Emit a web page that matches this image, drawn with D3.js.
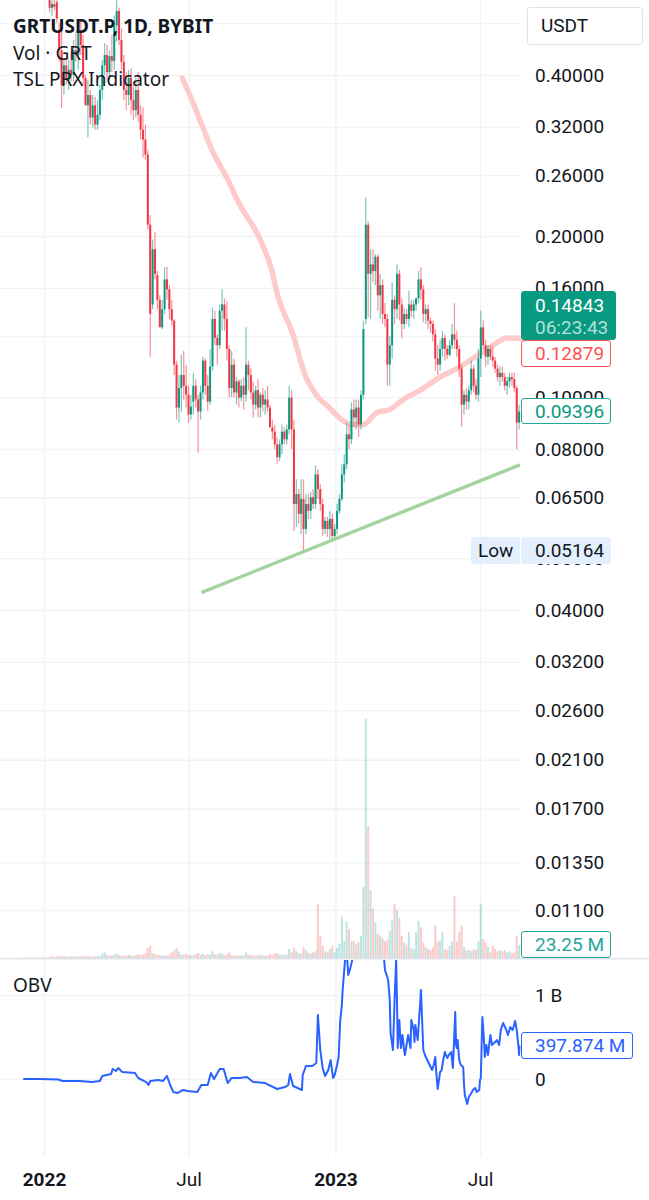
<!DOCTYPE html>
<html>
<head>
<meta charset="utf-8">
<title>GRTUSDT.P</title>
<script src="https://cdn.jsdelivr.net/npm/d3@7/dist/d3.min.js"></script>
<style>
  html, body { margin: 0; padding: 0; background: #fff; }
  svg { display: block; }
  text { font-family: Roboto, sans-serif; fill: #131722; }
  .legend text { font-family: "Noto Sans", sans-serif; }
  .axis .domain { display: none; }
  .axis line { stroke: #f1f2f4; stroke-width: 1.4; }
</style>
</head>
<body>
<div id="chart"></div>
<script>
const width = 649;
const height = 1200;

const priceTicks = [0.5, 0.4, 0.32, 0.26, 0.2, 0.16, 0.13, 0.1, 0.08, 0.065, 0.05, 0.04, 0.032, 0.026, 0.021, 0.017, 0.0135, 0.011];
// these two tick labels sit fully behind the USDT box and the last price box
const hiddenPriceLabels = [0.5, 0.13];
const timeTicks = ["2022-01-01", "2022-07-01", "2023-01-01", "2023-07-01"];
const timeLabels = ["2022", "Jul", "2023", "Jul"];
const obvTicks = [0, 1000];

// daily candles thinned to one every 3 days, starting 2022-01-08
const opens = [
  .552,.534,.543,.547,.485,.445,.383,.417,.392,.409,
  .400,.445,.436,.481,.455,.395,.351,.367,.333,.351,
  .323,.337,.375,.417,.436,.405,.434,.425,.495,.527,
  .465,.423,.375,.367,.395,.359,.344,.375,.337,.316,
  .303,.284,.210,.149,.189,.169,.152,.135,.146,.166,
  .159,.146,.139,.115,.0956,.104,.110,.105,.101,.0928,
  .0981,.105,.099,.0940,.102,.117,.105,.0981,.114,.140,
  .129,.125,.145,.149,.140,.123,.104,.115,.102,.107,
  .0998,.105,.101,.115,.110,.102,.0968,.103,.0956,.101,
  .0968,.099,.0956,.0878,.0862,.0816,.0772,.0816,.0862,.0834,
  .087,.0998,.087,.0631,.0659,.0605,.0645,.0567,.0631,.0613,
  .065,.0631,.0717,.0673,.0631,.0567,.0587,.0567,.0592,.055,
  .0567,.0613,.0645,.0717,.0749,.0852,.0834,.0948,.0916,.0956,
  .0889,.101,.140,.210,.17,.177,.172,.183,.155,.162,
  .143,.140,.115,.125,.152,.146,.170,.149,.137,.143,
  .140,.149,.145,.149,.153,.166,.159,.143,.146,.139,
  .137,.131,.118,.115,.123,.129,.123,.120,.125,.131,
  .128,.123,.113,.0968,.101,.0981,.103,.113,.105,.101,
  .118,.135,.125,.119,.123,.119,.117,.113,.109,.111,
  .109,.105,.107,.109,.108,.104,.0896
];
const highs = [
  .564,.552,.574,.564,.501,.485,.427,.431,.427,.442,
  .465,.485,.495,.506,.475,.400,.392,.375,.367,.364,
  .359,.383,.427,.459,.455,.445,.475,.517,.557,.535,
  .489,.436,.405,.409,.412,.383,.395,.405,.351,.348,
  .323,.290,.219,.197,.204,.172,.155,.152,.175,.175,
  .162,.152,.140,.117,.110,.120,.122,.115,.105,.101,
  .111,.108,.101,.105,.119,.118,.110,.123,.147,.145,
  .131,.149,.159,.153,.151,.125,.122,.118,.109,.108,
  .108,.109,.135,.117,.113,.107,.105,.108,.102,.104,
  .103,.105,.0968,.0908,.0889,.0841,.0834,.0889,.0878,.0889,
  .105,.103,.0908,.0702,.0673,.0702,.0702,.0659,.0659,.0665,
  .0673,.0745,.0733,.0687,.0645,.0597,.0597,.0613,.0605,.0579,
  .0631,.0659,.0749,.0782,.0896,.0889,.0977,.099,.099,.099,
  .103,.139,.236,.213,.189,.189,.185,.185,.170,.166,
  .150,.143,.130,.164,.155,.177,.173,.153,.147,.146,
  .158,.152,.152,.153,.172,.175,.162,.149,.149,.141,
  .139,.134,.125,.128,.133,.131,.125,.128,.137,.150,
  .133,.125,.115,.103,.104,.105,.117,.115,.108,.123,
  .145,.139,.128,.125,.125,.124,.119,.115,.114,.114,
  .111,.109,.111,.111,.111,.105,.0968
];
const lows = [
  .524,.516,.529,.501,.424,.347,.367,.383,.375,.389,
  .388,.423,.409,.436,.383,.351,.306,.323,.319,.316,
  .316,.330,.359,.400,.389,.392,.405,.409,.461,.455,
  .409,.359,.344,.351,.337,.330,.333,.327,.303,.280,
  .278,.206,.119,.146,.166,.146,.136,.134,.143,.152,
  .140,.136,.110,.0908,.0896,.0940,.0990,.0956,.0896,.0908,
  .0928,.0956,.0788,.0908,.099,.101,.0944,.0968,.112,.125,
  .115,.123,.133,.133,.117,.0998,.100,.0998,.0968,.0956,
  .0981,.0948,.0981,.103,.099,.0916,.0948,.0916,.0916,.094,
  .0928,.094,.0881,.0834,.0799,.0749,.0759,.0782,.0816,.0816,
  .0852,.0799,.0562,.0572,.058,.0555,.05164,.0555,.0592,.0592,
  .0618,.0618,.0645,.0613,.055,.0555,.0548,.0543,.0541,.0543,
  .0555,.0605,.0639,.0692,.0733,.0799,.0816,.0878,.087,.0841,
  .087,.099,.137,.141,.140,.164,.162,.145,.140,.137,
  .135,.105,.105,.118,.137,.140,.139,.129,.134,.137,
  .135,.141,.140,.145,.150,.152,.138,.137,.134,.132,
  .127,.112,.110,.112,.119,.117,.118,.119,.123,.123,
  .119,.109,.0881,.0928,.0948,.0948,.101,.102,.099,.0981,
  .109,.123,.114,.115,.117,.114,.111,.107,.105,.107,
  .103,.101,.104,.105,.102,.0799,.087
];
const closes = [
  .534,.543,.536,.510,.445,.383,.417,.392,.409,.400,
  .445,.436,.481,.455,.395,.351,.367,.333,.351,.323,
  .337,.375,.417,.436,.405,.434,.425,.495,.527,.465,
  .423,.375,.367,.395,.359,.344,.375,.337,.316,.303,
  .284,.210,.143,.189,.170,.152,.135,.146,.166,.159,
  .146,.139,.115,.0956,.104,.110,.105,.101,.0928,.0960,
  .105,.099,.0940,.102,.117,.105,.0981,.114,.140,.129,
  .125,.145,.149,.140,.123,.104,.115,.102,.107,.0998,
  .105,.101,.115,.110,.102,.0968,.103,.0956,.101,.0968,
  .099,.0956,.0878,.0862,.0816,.0772,.0816,.0862,.0834,.087,
  .0998,.087,.0631,.0659,.0605,.0645,.0567,.0631,.0613,.065,
  .0631,.0717,.0673,.0631,.0567,.0587,.0567,.0592,.055,.0567,
  .0613,.0645,.0717,.0749,.0852,.0834,.0948,.0916,.0956,.0889,
  .101,.134,.210,.170,.177,.172,.183,.155,.162,.143,
  .140,.115,.125,.152,.146,.170,.149,.137,.143,.140,
  .149,.145,.149,.153,.166,.159,.143,.146,.139,.137,
  .131,.118,.115,.123,.129,.123,.120,.125,.131,.128,
  .123,.113,.0968,.101,.0981,.103,.113,.105,.101,.118,
  .135,.125,.119,.123,.119,.117,.113,.109,.111,.109,
  .105,.107,.109,.108,.104,.0896,.09396
];

// volume in millions, same 3 day step, starts 11 bars before the first candle
const volumes = [
  2,2,2,2,3,2,2,2,3,2,2,
  2,3,2,3,3,4,3,3,2,3,
  3,2,3,3,3,4,3,3,2,3,
  4,3,8,10,5,4,4,6,8,5,
  5,4,4,6,4,4,5,7,5,6,
  8,18,22,9,7,6,5,5,4,4,
  6,10,14,18,12,7,6,8,5,5,
  5,7,9,6,8,5,7,6,12,7,
  6,9,8,5,7,10,5,5,4,5,
  5,4,10,6,5,5,4,5,6,5,
  4,5,7,5,8,9,6,6,5,6,
  16,10,18,12,8,8,20,14,10,8,
  10,12,97,40,22,12,10,16,22,10,
  18,25,74,30,66,52,30,30,25,28,
  40,127,428,236,122,88,64,43,40,36,
  30,32,49,67,97,85,72,40,28,24,
  46,18,16,46,67,55,28,20,16,14,
  19,58,30,31,46,16,14,22,30,111,
  30,46,58,20,14,14,12,16,14,30,
  97,34,28,20,10,22,16,12,14,12,
  14,10,12,8,10,40,23.25
];

// TSL PRX indicator, days counted from 2022-01-01
const tslDays = [173,187,199,212,229,245,270,285,293,311,327,343,358,367,379,387,400,417,433,450,471,496,517,537,559,580,596];
const tslValues = [.395,.354,.319,.286,.257,.229,.198,.173,.154,.132,.110,.100,.0954,.0923,.0896,.0889,.0889,.0936,.0948,.099,.103,.109,.113,.118,.124,.129,.12879];

const trendDays = [197, 596];
const trendValues = [.0431, .0747];

// OBV in millions, days counted from 2022-01-01
const obvDays = [
  -26,-5,18,23,45,60,70,73,84,86,90,93,98,114,118,128,131,133,143,149,154,158,162,167,174,180,192,197,205,209,
  213,220,225,230,235,245,254,262,277,292,302,306,308,312,323,324,328,336,341,343,346,349,352,356,359,361,362,364,367,369,
  371,373,374,377,379,381,383,386,388,400,414,425,426,427,429,431,433,434,437,439,441,442,443,445,447,449,451,452,456,459,
  460,463,464,465,468,470,471,472,474,475,477,480,483,486,488,490,491,493,496,498,500,502,505,507,510,511,512,513,515,516,
  517,518,520,522,525,526,527,530,532,536,537,540,542,545,546,547,549,551,552,554,556,559,561,565,567,570,572,575,579,581,
  584,587,590,592,594,595,596
];
const obvValues = [
  0,0,-6,-24,-24,-36,-24,36,60,119,95,131,83,71,12,-36,-71,-24,-12,-24,36,-71,-155,-167,-131,-143,-155,-71,-71,71,
  0,119,119,-48,12,12,24,-36,-48,-119,-95,-71,60,-83,-131,48,155,155,190,762,345,131,36,107,226,83,12,48,167,262,
  702,880,1059,1416,1535,1238,1297,1416,1535,1900,1900,1535,1416,1297,1238,1178,940,547,345,940,1416,940,369,702,369,524,345,286,524,369,
  702,583,440,643,464,762,881,1059,583,345,286,226,167,107,167,262,107,-119,83,107,226,321,250,286,321,226,131,345,797,405,
  369,464,226,167,143,-71,-190,-298,-214,-155,-131,-107,-155,-131,-12,12,738,464,262,405,286,524,405,440,464,405,583,666,583,524,
  619,583,690,583,405,286,397.874
];

const upColor = "#089981";
const downColor = "#f23645";
const baseDate = new Date(2022, 0, 1);
const firstCandle = new Date(2022, 0, 8);
const stepDays = 3;

const svg = d3.select("#chart").append("svg")
  .attr("width", width)
  .attr("height", height);

const x = d3.scaleTime()
  .domain([new Date(2022, 0, 1), new Date(2023, 6, 1)])
  .range([44, 480]);

const y = d3.scaleLog()
  .domain([0.4, 0.04])
  .range([75, 610]);

const volumeY = d3.scaleLinear()
  .domain([0, 428])
  .range([958, 719]);

const obvY = d3.scaleLinear()
  .domain([0, 1000])
  .range([1079, 995]);

function parseDay(value) {
  const parts = value.split("-").map(Number);
  return new Date(parts[0], parts[1] - 1, parts[2]);
}

function dayToDate(day) {
  return d3.timeDay.offset(baseDate, day);
}

drawGrid();
drawVolume();
drawIndicator();
drawCandles();
drawTrend();
drawObv();
drawLegend();
drawLabels();

function drawGrid() {
  svg.append("g")
    .attr("class", "axis time-grid")
    .attr("transform", "translate(0,1156)")
    .call(d3.axisBottom(x)
      .tickValues(timeTicks.map(parseDay))
      .tickSize(-1156)
      .tickPadding(17)
      .tickFormat((d, i) => timeLabels[i]))
    .selectAll("text")
    .attr("font-size", 19)
    .attr("font-weight", (d, i) => i % 2 === 0 ? 700 : 400);

  const priceAxis = svg.append("g")
    .attr("class", "axis price-axis")
    .attr("transform", "translate(520,0)")
    .call(d3.axisRight(y)
      .tickValues(priceTicks)
      .tickSize(-520)
      .tickPadding(15)
      .tickFormat(d => hiddenPriceLabels.includes(d) ? "" : d.toFixed(5)));
  priceAxis.selectAll("text").attr("font-size", 19);

  const obvAxis = svg.append("g")
    .attr("class", "axis obv-axis")
    .attr("transform", "translate(520,0)")
    .call(d3.axisRight(obvY)
      .tickValues(obvTicks)
      .tickSize(-520)
      .tickPadding(15)
      .tickFormat(d => d === 0 ? "0" : "1 B"));
  obvAxis.selectAll("text").attr("font-size", 19);

  svg.append("rect")
    .attr("x", 0)
    .attr("y", 958)
    .attr("width", width)
    .attr("height", 1.5)
    .attr("fill", "#e0e3eb");
}

function drawVolume() {
  const offset = volumes.length - closes.length;

  svg.append("g")
    .selectAll("rect")
    .data(volumes)
    .join("rect")
    .attr("x", (d, i) => x(d3.timeDay.offset(firstCandle, (i - offset) * stepDays)) - 1)
    .attr("width", 2)
    .attr("y", d => volumeY(d))
    .attr("height", d => volumeY(0) - volumeY(d))
    .attr("fill", (d, i) => {
      const c = i - offset;
      if (c < 0) {
        return "#f7a9a7";
      }
      return closes[c] >= opens[c] ? "#26a69a" : "#ef5350";
    })
    .attr("fill-opacity", 0.3);
}

function drawIndicator() {
  const line = d3.line()
    .x((d, i) => x(dayToDate(tslDays[i])))
    .y(d => y(d))
    .curve(d3.curveMonotoneX);

  svg.append("path")
    .attr("d", line(tslValues))
    .attr("fill", "none")
    .attr("stroke", "#fecbca")
    .attr("stroke-width", 5.4)
    .attr("stroke-linecap", "round");
}

function drawCandles() {
  const candles = closes.map((close, i) => ({
    date: d3.timeDay.offset(firstCandle, i * stepDays),
    open: opens[i],
    high: highs[i],
    low: lows[i],
    close: close
  }));

  const g = svg.append("g");

  g.selectAll("line")
    .data(candles)
    .join("line")
    .attr("x1", d => x(d.date))
    .attr("x2", d => x(d.date))
    .attr("y1", d => y(d.high))
    .attr("y2", d => y(d.low))
    .attr("stroke", d => d.close >= d.open ? upColor : downColor)
    .attr("stroke-opacity", 0.55)
    .attr("stroke-width", 1.2);

  g.selectAll("rect")
    .data(candles)
    .join("rect")
    .attr("x", d => x(d.date) - 1)
    .attr("width", 2)
    .attr("y", d => y(Math.max(d.open, d.close)))
    .attr("height", d => Math.max(1, Math.abs(y(d.open) - y(d.close))))
    .attr("fill", d => d.close >= d.open ? upColor : downColor);
}

function drawTrend() {
  const line = d3.line()
    .x((d, i) => x(dayToDate(trendDays[i])))
    .y(d => y(d));

  svg.append("path")
    .attr("d", line(trendValues))
    .attr("fill", "none")
    .attr("stroke", "#a3d49f")
    .attr("stroke-width", 3.4);
}

function drawObv() {
  const line = d3.line()
    .x((d, i) => x(dayToDate(obvDays[i])))
    .y(d => obvY(d));

  svg.append("clipPath")
    .attr("id", "obv-clip")
    .append("rect")
    .attr("x", 0)
    .attr("y", 960)
    .attr("width", 520.5)
    .attr("height", 196);

  svg.append("path")
    .attr("d", line(obvValues))
    .attr("clip-path", "url(#obv-clip)")
    .attr("fill", "none")
    .attr("stroke", "#2962ff")
    .attr("stroke-width", 2)
    .attr("stroke-linejoin", "round");
}

function drawLegend() {
  const legend = svg.append("g").attr("class", "legend");

  legend.append("text")
    .attr("x", 13).attr("y", 33)
    .attr("font-size", 19)
    .attr("font-weight", 700)
    .text("GRTUSDT.P, 1D, BYBIT");

  legend.append("text")
    .attr("x", 13).attr("y", 60)
    .attr("font-size", 19)
    .text("Vol · GRT");

  legend.append("text")
    .attr("x", 13).attr("y", 86)
    .attr("font-size", 19)
    .text("TSL PRX Indicator");

  legend.append("text")
    .attr("x", 13).attr("y", 992)
    .attr("font-size", 19)
    .text("OBV");
}

function labelBox(left, top, w, h, fill, stroke) {
  svg.append("rect")
    .attr("x", left + 0.5)
    .attr("y", top + 0.5)
    .attr("width", w - 1)
    .attr("height", h - 1)
    .attr("rx", 2.5)
    .attr("fill", fill)
    .attr("stroke", stroke);
}

function labelText(text, left, baseline, color, anchor = "start") {
  svg.append("text")
    .attr("x", left)
    .attr("y", baseline)
    .attr("font-size", 19)
    .attr("text-anchor", anchor)
    .style("fill", color)
    .text(text);
}

function drawLabels() {
  labelBox(527, 7, 116, 38, "#fff", "#e0e3eb");
  labelText("USDT", 541, 32, "#131722");

  labelBox(521, 340, 90, 27, "#fff", "#ff5252");
  labelText("0.12879", 535, 360, "#ff5252");

  labelBox(521, 291, 95, 49, upColor, upColor);
  labelText("0.14843", 535, 312, "#fff");
  labelText("06:23:43", 535, 334, "#b5e0d8");

  labelBox(521, 398, 90, 26, "#fff", "#26a69a");
  labelText("0.09396", 535, 418, "#089981");

  labelBox(471, 537, 49, 27, "#e3effd", "#e3effd");
  labelBox(521, 537, 90, 27, "#e3effd", "#e3effd");
  labelText("Low", 478, 557, "#131722");
  labelText("0.05164", 535, 557, "#131722");

  labelBox(521, 931, 90, 27, "#fff", "#26a69a");
  labelText("23.25 M", 535, 951, "#26a69a");

  labelBox(521, 1032, 112, 27, "#fff", "#2962ff");
  labelText("397.874 M", 535, 1052, "#2962ff");
}
</script>
</body>
</html>
